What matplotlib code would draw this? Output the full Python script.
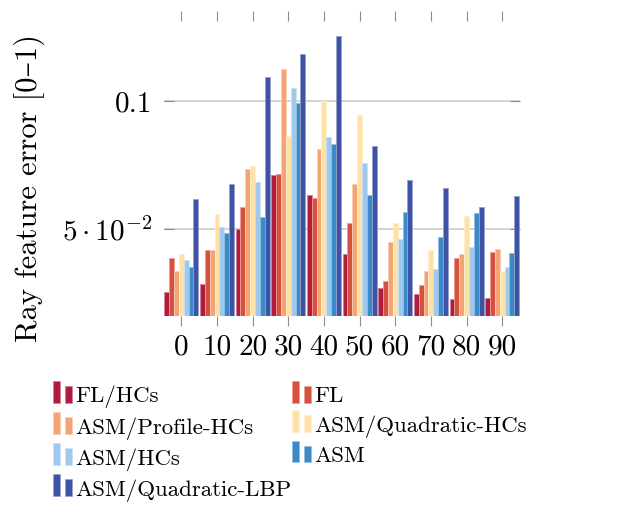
import matplotlib
matplotlib.use("Agg")
import matplotlib.pyplot as plt
import numpy as np
from matplotlib.patches import Rectangle
from matplotlib.legend_handler import HandlerBase
from matplotlib.colors import to_rgb

plt.rcParams['font.family'] = ['cmr10', 'DejaVu Serif']
plt.rcParams['mathtext.fontset'] = 'cm'
plt.rcParams['axes.unicode_minus'] = False

# ---- data ----
angles = [0, 10, 20, 30, 40, 50, 60, 70, 80, 90]
series_names = ["FL/HCs", "FL", "ASM/Profile-HCs", "ASM/Quadratic-HCs",
                "ASM/HCs", "ASM", "ASM/Quadratic-LBP"]
fl_hcs       = [0.0256, 0.0288, 0.0500, 0.0713, 0.0635, 0.0404, 0.0270, 0.0247, 0.0227, 0.0234]
fl           = [0.0386, 0.0421, 0.0585, 0.0714, 0.0620, 0.0525, 0.0300, 0.0281, 0.0387, 0.0413]
asm_profile  = [0.0336, 0.0418, 0.0733, 0.1125, 0.0811, 0.0678, 0.0452, 0.0337, 0.0404, 0.0422]
asm_quad_hcs = [0.0405, 0.0558, 0.0746, 0.0862, 0.1000, 0.0943, 0.0523, 0.0418, 0.0553, 0.0337]
asm_hcs      = [0.0379, 0.0507, 0.0683, 0.1049, 0.0859, 0.0757, 0.0461, 0.0344, 0.0429, 0.0352]
asm          = [0.0352, 0.0487, 0.0547, 0.0991, 0.0831, 0.0634, 0.0569, 0.0470, 0.0562, 0.0409]
asm_quad_lbp = [0.0617, 0.0678, 0.1094, 0.1181, 0.1253, 0.0825, 0.0691, 0.0662, 0.0586, 0.0631]
series_values = [fl_hcs, fl, asm_profile, asm_quad_hcs, asm_hcs, asm, asm_quad_lbp]
colors = ["#b01c3e", "#d6503f", "#f4a474", "#fee1a6", "#9ec9ec", "#3a89c9", "#3f53a4"]
ytick_values = [0.05, 0.1]
ytick_labels = [r"$5\cdot10^{-2}$", "0.1"]
ylabel = "Ray feature error [0–1)"

W, H = 618, 513
fig = plt.figure(figsize=(W / 100, H / 100), dpi=100)
ax_l, ax_r, ax_t, ax_b = 163.5, 520.0, 20.5, 316.0
ax = fig.add_axes([ax_l / W, 1 - ax_b / H, (ax_r - ax_l) / W, (ax_b - ax_t) / H])

def lighter(c, f=0.45):
    r, g, b = to_rgb(c)
    return (r + (1 - r) * f, g + (1 - g) * f, b + (1 - b) * f)

bw = 1.364
n = len(series_values)
x = np.array(angles, dtype=float)
handles = []
for i, (name, vals, col) in enumerate(zip(series_names, series_values, colors)):
    bars = ax.bar(x + (i - (n - 1) / 2) * bw, vals, width=bw, color=col,
                  edgecolor=lighter(col), linewidth=0.6, label=name, zorder=2)
    handles.append(bars.patches[0])

ax.set_xlim(-5, 95)
ax.set_ylim(0.0162, 0.1313)
ax.set_xticks(angles)
ax.set_xticklabels([str(a) for a in angles], fontsize=21)
ax.set_yticks(ytick_values)
ax.set_yticklabels(ytick_labels, fontsize=21)

for s in ax.spines.values():
    s.set_visible(False)

ax.yaxis.grid(True, color="#c8c8c8", linewidth=1.1, zorder=0)
ax.set_axisbelow(True)
ax.tick_params(axis='x', direction='out', top=True, bottom=True, length=7,
               width=0.8, color="#8c8c8c", pad=6)
ax.tick_params(axis='y', direction='in', left=True, right=True, length=7,
               width=0.8, color="#8c8c8c", pad=8)

ax.set_ylabel(ylabel, fontsize=22, va='center')
ax.yaxis.set_label_coords((29 - ax_l) / (ax_r - ax_l), (ax_b - 187.5) / (ax_b - ax_t))


class TwoBarHandler(HandlerBase):
    def create_artists(self, legend, orig_handle, xdescent, ydescent,
                       width, height, fontsize, trans):
        fc = orig_handle.get_facecolor()
        ec = lighter(fc)
        r1 = Rectangle((-xdescent, -ydescent), 5.0, 15.8, facecolor=fc,
                       edgecolor=ec, linewidth=0.5, transform=trans)
        r2 = Rectangle((-xdescent + 8.6, -ydescent), 5.0, 12.2, facecolor=fc,
                       edgecolor=ec, linewidth=0.5, transform=trans)
        return [r1, r2]


order = [0, 2, 4, 6, 1, 3, 5]
F = 16.5
leg = fig.legend([handles[i] for i in order], [series_names[i] for i in order],
                 handler_map={h: TwoBarHandler() for h in handles},
                 ncol=2, loc='upper left', bbox_to_anchor=(53 / W, 1 - 386 / H),
                 bbox_transform=fig.transFigure, frameon=False, fontsize=F,
                 handlelength=13.7 / F, handleheight=0.7, handletextpad=2.5 / F,
                 borderpad=0, borderaxespad=0, labelspacing=0.38,
                 columnspacing=0.0)

fig.savefig("out.png", dpi=100)
